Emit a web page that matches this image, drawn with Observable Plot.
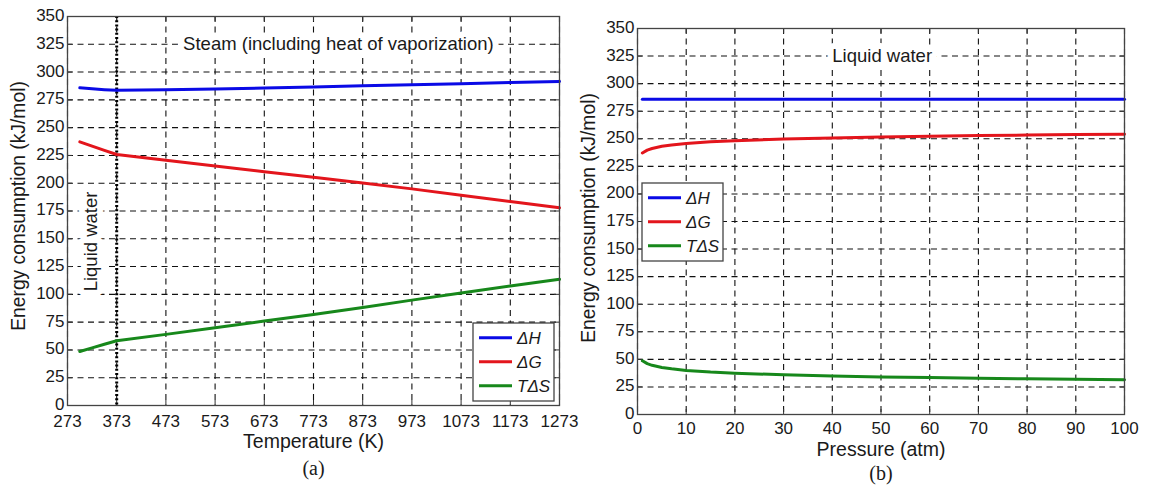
<!DOCTYPE html>
<html>
<head>
<meta charset="utf-8">
<script src="https://cdn.jsdelivr.net/npm/d3@7"></script>
<script src="https://cdn.jsdelivr.net/npm/@observablehq/plot@0.6"></script>
<style>
  html, body { margin: 0; padding: 0; background: #fff; }
  #fig { position: relative; width: 1149px; height: 486px; background: #fff; overflow: hidden; }
  #fig > svg { position: absolute; top: 0; }
</style>
</head>
<body>
<div id="fig"></div>
<script>
// ---- Series definitions ----
const seriesNames = ["ΔH", "ΔG", "TΔS"];
const seriesColors = ["#0a0ae6", "#e3151c", "#17881b"];

// ---- Panel (a): energy vs temperature ----
const tempTicks = [273, 373, 473, 573, 673, 773, 873, 973, 1073, 1173, 1273];
const tempK     = [298, 323, 348, 373, 473, 573, 673, 773, 873, 973, 1073, 1173, 1273];
const dHTemp    = [285.8, 285.0, 284.2, 283.6, 284.0, 284.8, 285.7, 286.6, 287.6, 288.6, 289.6, 290.6, 291.5];
const dGTemp    = [237.2, 233.4, 229.5, 225.8, 220.6, 215.5, 210.4, 205.4, 200.2, 194.9, 189.2, 183.6, 177.9];
const tdsTemp   = [48.6, 51.8, 55.1, 58.3, 64.0, 70.0, 76.0, 81.8, 88.2, 94.8, 101.3, 107.5, 113.6];
const boilingPointK = 373;

// ---- Panel (b): energy vs pressure ----
const pressureTicks = [0, 10, 20, 30, 40, 50, 60, 70, 80, 90, 100];
const pressureAtm = [1, 2, 3, 5, 7, 10, 15, 20, 30, 40, 50, 60, 70, 80, 90, 100];
const dHPress  = [285.8, 285.8, 285.8, 285.8, 285.8, 285.8, 285.8, 285.8, 285.8, 285.8, 285.8, 285.8, 285.8, 285.8, 285.8, 285.8];
const dGPress  = [237.1, 239.7, 241.2, 243.2, 244.4, 245.8, 247.3, 248.3, 249.8, 250.8, 251.7, 252.3, 252.9, 253.4, 253.8, 254.2];
const tdsPress = [48.7, 46.1, 44.6, 42.6, 41.4, 40.0, 38.5, 37.5, 36.0, 35.0, 34.1, 33.5, 32.9, 32.4, 32.0, 31.6];

const energyTicks = [0, 25, 50, 75, 100, 125, 150, 175, 200, 225, 250, 275, 300, 325, 350];

// ---- Helpers ----
const FONT = "'Liberation Sans', Arial, Helvetica, sans-serif";

function toLong(xs, cols) {
  return xs.flatMap((x, i) => cols.map((col, k) => ({x, v: col[i], s: seriesNames[k]})));
}

function panel({width, height, margin, xDomain, xTicks, data, xTitle, titleDy, yTitleDy, tickPad, caption, captionDy, extra}) {
  const innerW = width - margin.left - margin.right;
  const innerH = height - margin.top - margin.bottom;
  const dash = {stroke: "#111", strokeWidth: 1.1, strokeDasharray: "6,4.5", strokeOpacity: 1};
  return Plot.plot({
    width, height,
    marginLeft: margin.left, marginRight: margin.right,
    marginTop: margin.top, marginBottom: margin.bottom,
    style: {fontFamily: FONT, fontSize: "17px", color: "#1a1a1a", background: "transparent", overflow: "visible"},
    x: {domain: xDomain, label: null},
    y: {domain: [0, 350], label: null},
    color: {domain: seriesNames, range: seriesColors},
    marks: [
      Plot.gridX(xTicks, dash),
      Plot.gridY(energyTicks, dash),
      // inward tick marks on all four sides
      Plot.ruleX(xTicks, {insetTop: innerH - 5, stroke: "#333"}),
      Plot.ruleX(xTicks, {insetBottom: innerH - 5, stroke: "#333"}),
      Plot.ruleY(energyTicks, {insetRight: innerW - 5, stroke: "#333"}),
      Plot.ruleY(energyTicks, {insetLeft: innerW - 5, stroke: "#333"}),
      ...extra,
      Plot.line(data, {x: "x", y: "v", z: "s", stroke: "s", strokeWidth: 3}),
      Plot.frame({stroke: "#444", strokeWidth: 1.3}),
      Plot.axisX({ticks: xTicks, tickSize: 0, tickPadding: tickPad, tickFormat: d => String(d), label: null}),
      Plot.axisY({ticks: energyTicks, tickSize: 0, tickPadding: 3, dy: -1, label: null}),
      Plot.text([xTitle], {frameAnchor: "bottom", dy: titleDy, fontSize: 19.5, textAnchor: "middle", lineAnchor: "middle"}),
      Plot.text(["Energy consumption (kJ/mol)"], {frameAnchor: "left", dx: -49, dy: yTitleDy, rotate: -90, fontSize: 19.3, textAnchor: "middle", lineAnchor: "middle"}),
      Plot.text([caption], {frameAnchor: "bottom", dy: captionDy, fontSize: 20, textAnchor: "middle", fontFamily: "'Liberation Serif', 'Times New Roman', serif", lineAnchor: "middle"})
    ]
  });
}

function legend(svg, left, top) {
  const g = d3.select(svg).append("g");
  g.append("rect")
    .attr("x", left).attr("y", top).attr("width", 81).attr("height", 78)
    .attr("fill", "#fff").attr("stroke", "#444").attr("stroke-width", 1.3);
  seriesNames.forEach((name, i) => {
    const y = top + 14.7 + i * 24;
    g.append("line")
      .attr("x1", left + 6).attr("x2", left + 39).attr("y1", y).attr("y2", y)
      .attr("stroke", seriesColors[i]).attr("stroke-width", 3);
    g.append("text")
      .attr("x", left + 44).attr("y", y).attr("dy", "0.35em")
      .attr("text-anchor", "start")
      .attr("font-family", FONT).attr("font-size", 17).attr("font-style", "italic")
      .attr("fill", "#1a1a1a")
      .text(name);
  });
}

const halo = {stroke: "#fff", strokeWidth: 12, paintOrder: "stroke", fill: "#1a1a1a", fontSize: 18.5};

// ---- Panel (a) ----
const chartA = panel({
  width: 575, height: 486,
  margin: {top: 16, right: 16, bottom: 81, left: 67},
  xDomain: [273, 1273], xTicks: tempTicks,
  data: toLong(tempK, [dHTemp, dGTemp, tdsTemp]),
  xTitle: "Temperature (K)", titleDy: 36, yTitleDy: -5, tickPad: 9,
  caption: "(a)", captionDy: 63,
  extra: [
    Plot.text(["Steam (including heat of vaporization)"], {x: 508, y: 325, textAnchor: "start", lineAnchor: "middle", ...halo}),
    Plot.text(["Liquid water"], {x: 320, y: 147.6, rotate: -90, textAnchor: "middle", lineAnchor: "middle", ...halo}),
    Plot.ruleX([boilingPointK], {stroke: "#000", strokeWidth: 3, strokeDasharray: "2,2.2"})
  ]
});
chartA.style.left = "0px";
legend(chartA, 473, 323);

// ---- Panel (b) ----
const chartB = panel({
  width: 574, height: 486,
  margin: {top: 28, right: 25, bottom: 72, left: 62},
  xDomain: [0, 100], xTicks: pressureTicks,
  data: toLong(pressureAtm, [dHPress, dGPress, tdsPress]),
  xTitle: "Pressure (atm)", titleDy: 35, yTitleDy: -3.5, tickPad: 7,
  caption: "(b)", captionDy: 59,
  extra: [
    Plot.text(["Liquid water"], {x: 40, y: 325, textAnchor: "start", lineAnchor: "middle", ...halo})
  ]
});
chartB.style.left = "575px";
legend(chartB, 67, 183);

const fig = document.getElementById("fig");
fig.append(chartB, chartA);
</script>
</body>
</html>
